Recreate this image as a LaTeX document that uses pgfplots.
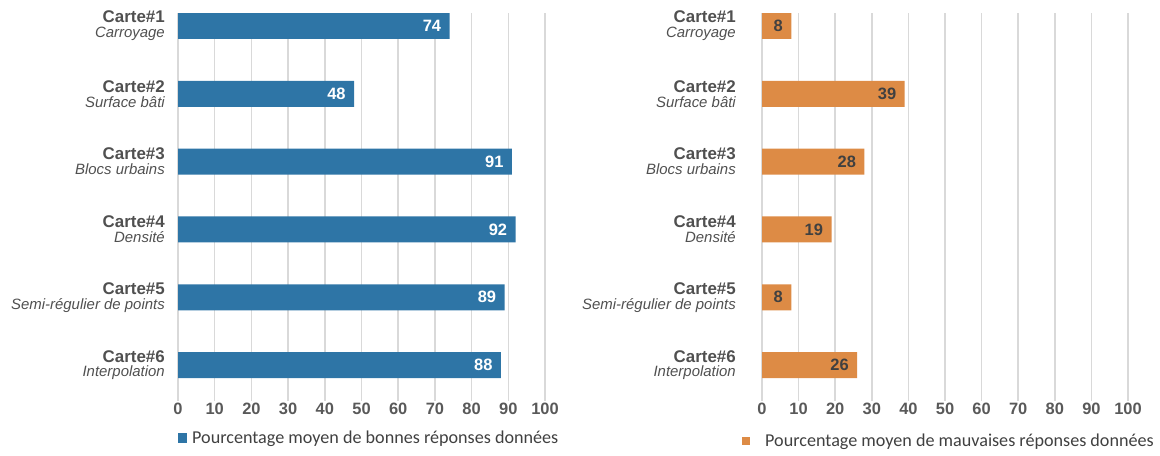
\documentclass[border=0pt]{standalone}
\usepackage{pgfplots}
\pgfplotsset{compat=1.18}
\usepackage{fontspec}
\setmainfont{Liberation Sans}
\newfontfamily\legfont{Carlito}
\definecolor{mblue}{RGB}{46,117,166}
\definecolor{morange}{RGB}{221,139,69}
\definecolor{gridc}{RGB}{217,217,217}
\definecolor{tickc}{RGB}{89,89,89}
\definecolor{labc}{RGB}{80,80,80}
\definecolor{valc}{RGB}{64,64,64}
\newcommand{\cl}[2]{\textbf{#1}\\[1bp]{\fontsize{15}{15}\selectfont\itshape #2}}
\pgfplotsset{
  mybase/.style={
    xbar, scale only axis, height=382bp,
    xmin=0, xmax=100, ymin=-0.19, ymax=5.44, y dir=reverse,
    xtick={0,10,...,100},
    ytick={0,1,2,3,4,5},
    yticklabels={{\cl{Carte\#1}{Carroyage}},{\cl{Carte\#2}{Surface bâti}},{\cl{Carte\#3}{Blocs urbains}},{\cl{Carte\#4}{Densité}},{\cl{Carte\#5}{Semi-régulier de points}},{\cl{Carte\#6}{Interpolation}}},
    axis line style={draw=none},
    xmajorgrids, grid style={gridc, line width=1.5bp},
    tick align=outside, major tick length=6bp,
    xtick style={gridc, line width=1.5bp},
    ytick style={draw=none},
    xtick pos=left, ytick pos=left,
    /pgf/number format/assume math mode=true,
    xticklabel style={font=\fontsize{16.5}{18}\selectfont\bfseries, text=tickc, inner sep=0pt, yshift=-2bp},
    yticklabel style={align=right, text=labc, inner sep=0pt, font=\fontsize{17}{14}\selectfont},
    bar width=26bp,
    nodes near coords, point meta=x,
    every node near coord/.append style={anchor=east, xshift=-5bp, font=\fontsize{16.5}{18}\selectfont\bfseries},
    legend style={draw=none, fill=none, inner sep=0pt, font=\legfont\fontsize{18.2}{20}\selectfont, text=valc, anchor=west, at={(0,0)}},
  }
}
\begin{document}
\begin{tikzpicture}
\path[use as bounding box] (0,0) rectangle (1160bp,-456bp);
\begin{axis}[mybase, width=367bp, at={(178bp,-395bp)}, anchor=south west,
  yticklabel style={xshift=-7bp},
  every node near coord/.append style={text=white},
  legend style={xshift=0bp, yshift=-43bp},
  legend image code/.code={\fill[mblue] (0bp,-5bp) rectangle (9bp,5bp);}]
\addplot[fill=mblue, draw=none] coordinates {(74,0) (48,1) (91,2) (92,3) (89,4) (88,5)};
\addlegendentry{\hspace{3bp}Pourcentage moyen de bonnes réponses données}
\end{axis}
\begin{axis}[mybase, width=366bp, at={(762bp,-395bp)}, anchor=south west,
  yticklabel style={xshift=-20bp},
  every node near coord/.append style={text=valc},
  legend style={xshift=-20bp, yshift=-46bp},
  legend image code/.code={\fill[morange] (0bp,-4bp) rectangle (8bp,4bp);}]
\addplot[fill=morange, draw=none] coordinates {(8,0) (39,1) (28,2) (19,3) (8,4) (26,5)};
\addlegendentry{\hspace{13bp}Pourcentage moyen de mauvaises réponses données}
\end{axis}
\end{tikzpicture}
\end{document}
